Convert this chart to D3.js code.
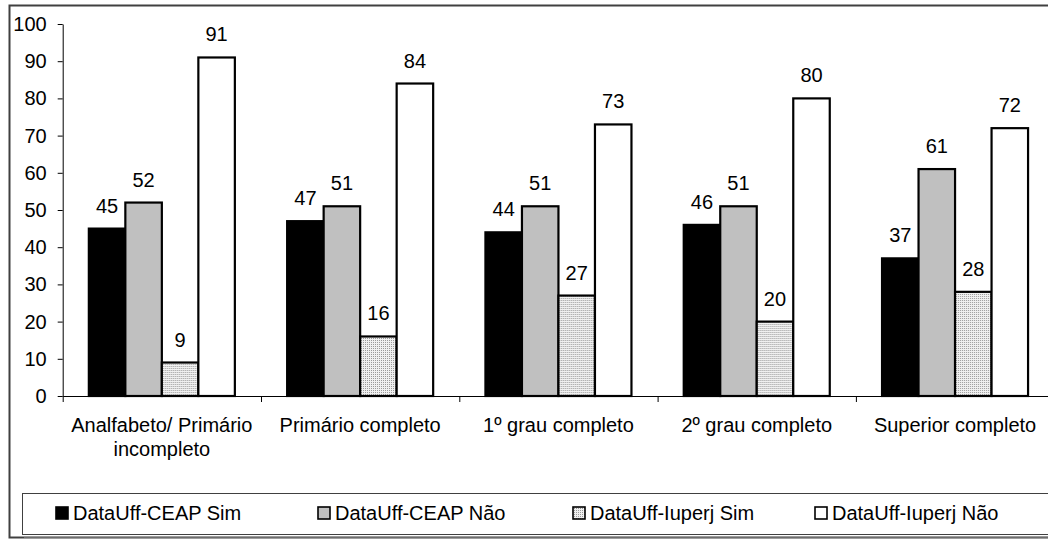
<!DOCTYPE html>
<html><head><meta charset="utf-8">
<script src="https://cdn.jsdelivr.net/npm/d3@7/dist/d3.min.js"></script>
<style>
html,body{margin:0;padding:0;background:#fff;overflow:hidden}
svg{display:block;font-family:"Liberation Sans",Arial,sans-serif}
</style></head><body>
<svg id="chart" width="1048" height="539"></svg>
<script>
const categories = ["Analfabeto/ Primário incompleto", "Primário completo", "1º grau completo", "2º grau completo", "Superior completo"];
const categoryLines = [["Analfabeto/ Primário", "incompleto"], ["Primário completo"], ["1º grau completo"], ["2º grau completo"], ["Superior completo"]];
const seriesNames = ["DataUff-CEAP Sim", "DataUff-CEAP Não", "DataUff-Iuperj Sim", "DataUff-Iuperj Não"];
const ceapSim = [45, 47, 44, 46, 37];
const ceapNao = [52, 51, 51, 51, 61];
const iuperjSim = [9, 16, 27, 20, 28];
const iuperjNao = [91, 84, 73, 80, 72];
const yTicks = [0, 10, 20, 30, 40, 50, 60, 70, 80, 90, 100];

const seriesValues = [ceapSim, ceapNao, iuperjSim, iuperjNao];
const fills = ["#000000", "#c0c0c0", "url(#dots)", "#ffffff"];
const FS = 20;

const svg = d3.select("#chart");
const defs = svg.append("defs");
const pat = defs.append("pattern").attr("id", "dots").attr("patternUnits", "userSpaceOnUse")
  .attr("width", 2).attr("height", 2);
pat.append("rect").attr("width", 2).attr("height", 2).attr("fill", "#f0f0f0");
pat.append("rect").attr("x", 0).attr("y", 0).attr("width", 1).attr("height", 1).attr("fill", "#9a9a9a");

const left = 62.7, catW = 198.3, y0 = 396, yTop = 24;
const x = d3.scaleBand().domain(categories).range([left, left + catW * categories.length]).padding(0);
const xs = d3.scaleBand().domain(seriesNames).range([0, x.bandwidth()]).paddingInner(0).paddingOuter(0.716);
const xLin = d3.scaleLinear().domain([0, categories.length]).range([left, left + catW * categories.length]);
const y = d3.scaleLinear().domain([0, 100]).range([y0, yTop]);

// outer frame
svg.append("rect").attr("x", 9.5).attr("y", 5.5).attr("width", 1100).attr("height", 532)
  .attr("fill", "none").attr("stroke", "#404040").attr("stroke-width", 2);

// y axis
const yAxis = svg.append("g").attr("transform", `translate(${left},0)`)
  .call(d3.axisLeft(y).tickValues(yTicks).tickSize(5).tickSizeOuter(0).tickPadding(11));
yAxis.selectAll("text").attr("font-size", FS).attr("fill", "#000").attr("font-family", "Liberation Sans, Arial, sans-serif");
yAxis.selectAll("line,path").attr("stroke", "#000");

// bars
const groups = svg.append("g").selectAll("g").data(categories).join("g")
  .attr("transform", d => `translate(${x(d)},0)`);
groups.each(function(cat, ci) {
  const g = d3.select(this);
  seriesNames.forEach((s, si) => {
    const v = seriesValues[si][ci];
    g.append("rect").attr("x", xs(s)).attr("y", y(v)).attr("width", xs.bandwidth()).attr("height", y(0) - y(v))
      .attr("fill", fills[si]).attr("stroke", "#000").attr("stroke-width", 2.2);
    g.append("text").attr("x", xs(s) + xs.bandwidth() / 2).attr("y", y(v) - 16)
      .attr("text-anchor", "middle").attr("font-size", FS).text(v);
  });
});

// x axis
const xAxis = svg.append("g").attr("transform", `translate(0,${y0})`)
  .call(d3.axisBottom(xLin).tickValues(d3.range(categories.length + 1)).tickFormat("").tickSize(6).tickSizeOuter(0));
xAxis.selectAll("line,path").attr("stroke", "#000");

// category labels
categories.forEach((c, i) => {
  const t = svg.append("text").attr("x", x(c) + x.bandwidth() / 2).attr("y", 432)
    .attr("text-anchor", "middle").attr("font-size", FS);
  categoryLines[i].forEach((ln, li) => {
    t.append("tspan").attr("x", x(c) + x.bandwidth() / 2).attr("dy", li === 0 ? 0 : 24).text(ln);
  });
});

// legend
svg.append("rect").attr("x", 24).attr("y", 536).attr("width", 1100).attr("height", 1.5).attr("fill", "#9a9a9a");
svg.append("rect").attr("x", 22.5).attr("y", 493.5).attr("width", 1100).attr("height", 41)
  .attr("fill", "#fff").attr("stroke", "#404040").attr("stroke-width", 1);
const legendX = [56, 318, 573, 815];
seriesNames.forEach((s, si) => {
  svg.append("rect").attr("x", legendX[si]).attr("y", 507).attr("width", 12).attr("height", 12)
    .attr("fill", fills[si]).attr("stroke", "#000").attr("stroke-width", 1.6);
  svg.append("text").attr("x", legendX[si] + 17).attr("y", 520).attr("font-size", FS).text(s);
});
</script>
</body></html>
